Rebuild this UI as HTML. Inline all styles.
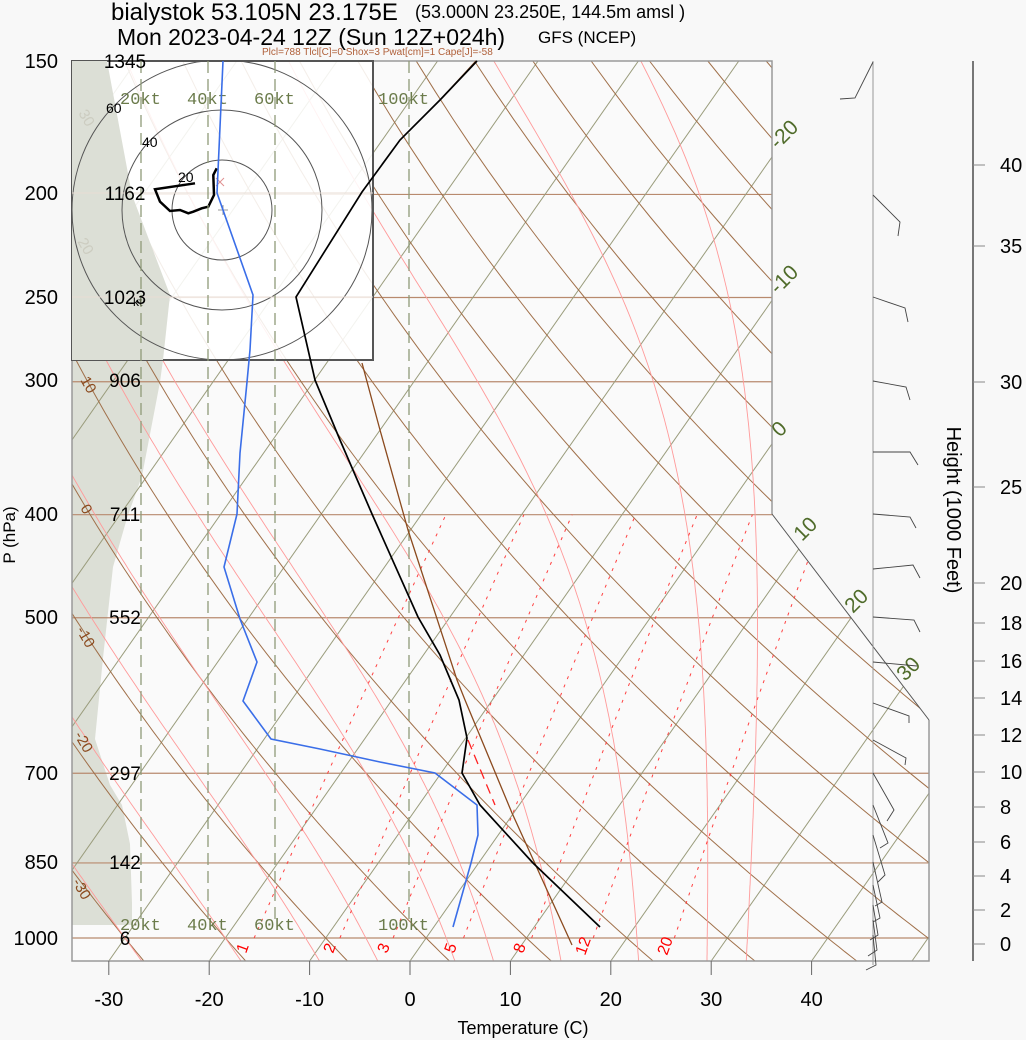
<!DOCTYPE html>
<html><head><meta charset="utf-8">
<style>
html,body{margin:0;padding:0;background:#f8f8f8;}
svg{display:block;font-family:"Liberation Sans",sans-serif;}
</style></head>
<body>
<svg id="s" width="1026" height="1040" viewBox="0 0 1026 1040" xmlns="http://www.w3.org/2000/svg"></svg>
<script>
(function(){
var s=[];
function Y(p){return 938+462*Math.log(p/1000);}
function X(T,y){return 410+10.04*T+0.7*(961-y);}
function pl(pts,st){return '<polyline fill="none" points="'+pts.map(function(q){return q[0].toFixed(1)+','+q[1].toFixed(1)}).join(' ')+'" '+st+'/>';}
s.push('<rect x="0" y="0" width="1026" height="1040" fill="#f8f8f8"/>');
s.push('<defs><clipPath id="c"><polygon points="72,61 772,61 772,514 929,720 929,961 72,961"/></clipPath><clipPath id="h"><rect x="72" y="61" width="301" height="299"/></clipPath></defs>');
s.push('<polygon points="72,61 772,61 772,514 929,720 929,961 72,961" fill="#fafafa"/>');
s.push('<g clip-path="url(#c)">');
s.push('<polygon fill="#dcdfd6" points="72,61 107,61 132,195 170,295 163,360 160,382 142,476 127,518 113,567 103,658 95,739 110,785 122,805 130,844 132,903 132,925 72,925"/>');
[1000,850,700,500,400,300,250,200].forEach(function(p){var y=Y(p);s.push('<line x1="72" x2="940" y1="'+y+'" y2="'+y+'" stroke="#b88a6e" stroke-width="1.2"/>');});
for(var T=-160;T<=50;T+=10){s.push('<line x1="'+X(T,961)+'" y1="961" x2="'+X(T,61)+'" y2="61" stroke="#9a9c7c" stroke-width="1"/>');}
for(var th=-40;th<=200;th+=10){var pts=[];for(var p=1060;p>=140;p-=10){var t=(th+273.15)*Math.pow(p/1000,0.286)-273.15;var y=Y(p);pts.push([X(t,y),y]);}s.push(pl(pts,'stroke="#a0704a" stroke-width="1"'));}
function es(t){return 6.112*Math.exp(17.67*t/(t+243.5));}
function dTdp(t,p){var Tk=t+273.15,e=es(t),r=0.622*e/(p-e),L=2.5e6,Rd=287,cp=1004;return (Rd*Tk+L*r)/(p*(cp+L*L*r*0.622/(Rd*Tk*Tk)));}
[-30,-20,-12,-6,2,6,13,21,28,32].forEach(function(t0){var arr=[],t=t0,p;for(p=1000;p>=145;p-=5){var y=Y(p);arr.push([X(t,y),y]);t-=dTdp(t,p)*5;}var lo=[];t=t0;for(p=1000;p<=1060;p+=5){var y2=Y(p);lo.unshift([X(t,y2),y2]);t+=dTdp(t,p)*5;}s.push(pl(lo.concat(arr),'stroke="#ff9a9a" stroke-width="0.9"'));});
[1,2,3,5,8,12,20].forEach(function(w){var pts=[];for(var p=1000;p>=400;p-=10){var e=w*p/(622+w);var l=Math.log(e/6.112);var td=243.5*l/(17.67-l);var y=Y(p);pts.push([X(td,y),y]);}s.push(pl(pts,'stroke="#ff4040" stroke-width="1" stroke-dasharray="3,6"'));});
s.push('</g>');
s.push('<polyline fill="none" stroke="#999" stroke-width="1.5" points="772,514 772,61 72,61 72,961 929,961 929,720"/>');
s.push('<line x1="772" y1="514" x2="929" y2="720" stroke="#555" stroke-width="1"/>');
for(var T=-30;T<=40;T+=10){var x=410+10.04*T;s.push('<line x1="'+x+'" x2="'+x+'" y1="961" y2="975" stroke="#666"/>');s.push('<text x="'+x+'" y="1006" font-size="20" text-anchor="middle">'+T+'</text>');}
s.push('<rect x="72" y="61" width="301" height="299" fill="#ffffff" fill-opacity="0.88" stroke="#555" stroke-width="2"/>');
s.push('<g clip-path="url(#h)"><polygon fill="#dcdfd6" points="72,61 107,61 132,195 170,295 163,360 72,360"/>');
[50,100,150].forEach(function(r){s.push('<circle cx="222" cy="210" r="'+r+'" fill="none" stroke="#555" stroke-width="1"/>');});
s.push('<line x1="72" y1="193" x2="373" y2="193" stroke="#e8dcd4"/><line x1="72" y1="297" x2="373" y2="297" stroke="#e8dcd4"/>');
s.push('<text x="80" y="120" font-size="15" fill="#ccccc0" transform="rotate(60 85 115)">30</text><text x="78" y="250" font-size="15" fill="#ccccc0" transform="rotate(60 85 245)">20</text>');
s.push('</g>');
s.push('<text x="106" y="113" font-size="14">60</text><text x="142" y="147" font-size="14">40</text><text x="178" y="182" font-size="14">20</text><text x="133" y="306" font-size="12">kt</text>');
s.push('<path d="M216,178 l8,8 M224,178 l-8,8" stroke="#e09090" stroke-width="1"/><path d="M223,205 v10 M218,210 h10" stroke="#999"/>');
var hp=[[470,340],[460,360],[462,420],[445,455],[425,460],[400,470],[385,475],[360,465],[330,468],[300,440],[285,403],[405,385]].map(function(q){return [60+q[0]/3,55+q[1]/3];});
s.push(pl(hp,'stroke="#000" stroke-width="2.5"'));
[141,208,275,409].forEach(function(x){s.push('<line x1="'+x+'" x2="'+x+'" y1="61" y2="925" stroke="#8f9a78" stroke-width="1.3" stroke-dasharray="12,6"/>');});
[[120,'20kt'],[187,'40kt'],[254,'60kt'],[378,'100kt']].forEach(function(a){s.push('<text x="'+a[0]+'" y="104" font-size="17" fill="#6b7b4b" font-family="Liberation Mono,monospace">'+a[1]+'</text><text x="'+a[0]+'" y="930" font-size="17" fill="#6b7b4b" font-family="Liberation Mono,monospace">'+a[1]+'</text>');});
s.push(pl([[572,945],[512,813],[465,700],[457,680],[408,530],[380,430],[362,363]],'stroke="#8b4a1e" stroke-width="1.3"'));
s.push(pl([[476,61],[442,98]],'stroke="#8b4a1e" stroke-width="1.3"'));
s.push('<line x1="468" y1="740" x2="495" y2="805" stroke="#ff2020" stroke-width="1.3" stroke-dasharray="10,6"/>');
s.push(pl([[223,61],[217,193],[253,295],[250,350],[247,382],[240,453],[237,514],[224,567],[240,619],[257,662],[243,701],[271,739],[320,749],[380,762],[435,773],[477,805],[478,835],[471,863],[453,927]],'stroke="#3a6ee8" stroke-width="1.6"'));
s.push(pl([[477,61],[440,100],[400,140],[362,192],[296,297],[315,380],[340,440],[372,514],[418,617],[440,655],[459,700],[467,738],[462,773],[480,805],[533,863],[600,927]],'stroke="#000" stroke-width="1.7"'));
[[150,61],[200,193],[250,297],[300,380],[400,514],[500,617],[700,773],[850,862],[1000,938]].forEach(function(a){s.push('<text x="58" y="'+(a[1]+7)+'" font-size="20" text-anchor="end">'+a[0]+'</text>');});
[['1345',61],['1162',193],['1023',297],['906',380],['711',514],['552',617],['297',773],['142',862],['6',938]].forEach(function(a){s.push('<text x="125" y="'+(a[1]+7)+'" font-size="19" text-anchor="middle">'+a[0]+'</text>');});
[['10',80,380],['0',80,508],['-10',76,630],['-20',74,735],['-30',72,882]].forEach(function(a){s.push('<text x="'+a[1]+'" y="'+a[2]+'" font-size="15" fill="#8b4a1e" transform="rotate(60 '+a[1]+' '+a[2]+')">'+a[0]+'</text>');});
[['-20',778,150],['-10',778,295],['0',780,438],['10',802,542],['20',853,614],['30',905,682]].forEach(function(a){s.push('<text x="'+a[1]+'" y="'+a[2]+'" font-size="21" fill="#4f6b2a" transform="rotate(-45 '+a[1]+' '+a[2]+')">'+a[0]+'</text>');});
[['1',246,954],['2',333,954],['3',387,954],['5',454,954],['8',523,954],['12',585,956],['20',667,956]].forEach(function(a){s.push('<text x="'+a[1]+'" y="'+a[2]+'" font-size="16" fill="#ff0000" transform="rotate(-70 '+a[1]+' '+a[2]+')">'+a[0]+'</text>');});
s.push('<line x1="873" y1="61" x2="873" y2="965" stroke="#999" stroke-width="1"/>');
var wb=[[[873,62],[855,98],[840,99]],[[873,195],[900,222],[898,236]],[[873,297],[905,308],[908,322]],[[873,381],[906,387],[910,400]],[[873,452],[910,452],[918,465]],[[873,514],[910,517],[916,528]],[[873,569],[913,565],[920,578]],[[873,617],[914,620],[920,632]],[[873,662],[917,666]],[[873,703],[909,716],[909,723]],[[873,740],[906,758],[905,765]],[[873,773],[894,810],[887,821]],[[873,805],[888,843],[880,848]],[[873,835],[885,875],[878,882]],[[873,862],[882,902],[875,906]],[[873,885],[880,918],[873,922]],[[873,905],[878,935],[870,940]],[[873,920],[877,950],[868,956]],[[873,935],[876,965],[866,970]]];
wb.forEach(function(b){s.push(pl(b,'stroke="#444" stroke-width="0.9"'));});
s.push('<line x1="973" y1="61" x2="973" y2="961" stroke="#777" stroke-width="2"/>');
[[40,165],[35,246],[30,382],[25,487],[20,583],[18,623],[16,661],[14,698],[12,735],[10,772],[8,807],[6,842],[4,876],[2,910],[0,944]].forEach(function(a){s.push('<line x1="973" x2="985" y1="'+a[1]+'" y2="'+a[1]+'" stroke="#888"/><text x="1000" y="'+(a[1]+7)+'" font-size="20">'+a[0]+'</text>');});
s.push('<text x="947" y="510" font-size="20" text-anchor="middle" transform="rotate(90 947 510)">Height (1000 Feet)</text>');
s.push('<text x="15" y="535" font-size="17" text-anchor="middle" transform="rotate(-90 15 535)">P (hPa)</text>');
s.push('<text x="523" y="1034" font-size="18" text-anchor="middle">Temperature (C)</text>');
s.push('<text x="111" y="20" font-size="24">bialystok 53.105N 23.175E</text><text x="415" y="18" font-size="18">(53.000N 23.250E, 144.5m amsl )</text>');
s.push('<text x="117" y="45" font-size="23">Mon 2023-04-24 12Z (Sun 12Z+024h)</text><text x="538" y="43" font-size="17">GFS (NCEP)</text>');
s.push('<text x="262" y="55" font-size="10" fill="#b0603a">Plcl=788 Tlcl[C]=0 Shox=3 Pwat[cm]=1 Cape[J]=-58</text>');
document.getElementById('s').innerHTML=s.join('');
})();
</script>
</body></html>
